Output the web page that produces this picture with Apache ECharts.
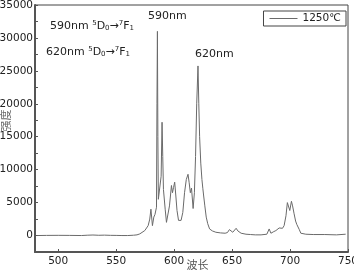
<!DOCTYPE html>
<html><head><meta charset="utf-8">
<script src="https://cdn.jsdelivr.net/npm/echarts@6/dist/echarts.min.js"></script>
<style>html,body{margin:0;padding:0;background:#fff}#c{width:354px;height:271px}</style>
</head><body><div id="c"></div>
<script>
const wavelength = [482,490,500,510,520,525,530,535,540,545,550,555,560,565,568,570.4,572,574.7,576,577.6,579,580,581.3,582.5,583.5,584.8,585.2,585.6,586.0,586.4,587.2,588,588.8,589.6,590.2,590.8,591.5,592.3,593.4,594.5,596,597.7,598.6,599.5,600.5,601.5,602.5,603.8,604.8,606,607.5,609,610.5,612,613,614,615,616.4,617.5,618.5,619.5,620.6,621.3,622,623,624,624.8,625.5,626.5,627.7,629,630.6,633,636,640,644,646,647.7,649,650.6,652,653.5,655,657.8,662,666,670,675,680,682,683.5,686,687.8,689,690.6,692,693.5,694.9,696.5,697.7,698.3,699.8,701.2,702.2,703.5,704.8,705.8,707,708,709.3,713.6,720,730,740,748];
const intensity = [0,20,30,20,0,50,80,40,60,30,20,0,0,50,100,250,500,750,1000,1500,2500,4000,1500,2800,3200,4300,20000,31000,15000,5500,5500,5400,9000,17200,12000,7000,6800,4000,2000,2200,4500,7600,6500,7300,8100,6000,3800,2300,2000,2300,3500,6500,8500,9300,8000,6500,7200,4100,6500,12000,20000,25750,20000,15000,11000,8500,7100,6000,4500,2800,1800,1000,700,500,400,350,450,900,700,500,700,1100,700,350,200,150,100,100,200,1000,350,600,750,700,1150,850,1100,1500,3000,5000,5300,3800,5200,4500,3300,2200,1700,1500,900,350,200,150,150,100,200];
const seriesName = '1250℃';
const xTicks = [500,550,600,650,700,750];
const yTicks = [0,5000,10000,15000,20000,25000,30000,35000];
const yMinorTicks = [-2500,0,2500,5000,7500,10000,12500,15000,17500,20000,22500,25000,27500,30000,32500,35000];

const chart = echarts.init(document.getElementById('c'));
const font = 'DejaVu Sans';
const txt = '#222';
chart.setOption({
  animation: false,
  grid: {left: 35, right: 6, top: 5, bottom: 19, show: true, borderColor: '#444', borderWidth: 1, containLabel: false, outerBoundsMode: 'none'},
  legend: {
    data: [seriesName], right: 8, top: 11, orient: 'horizontal',
    itemWidth: 28, itemHeight: 1, itemGap: 4,
    borderColor: '#444', borderWidth: 1, padding: [2, 5, 2, 6],
    icon: 'rect',
    textStyle: {fontFamily: font, fontSize: 10.5, color: txt}
  },
  xAxis: {
    type: 'value', min: 480, max: 750,
    name: '波长', nameLocation: 'middle', nameGap: 7, nameMoveOverlap: false,
    nameTextStyle: {fontFamily: 'Noto Sans CJK SC', fontSize: 11, color: '#555', padding: [0,0,0,12]},
    axisLine: {show: true, onZero: false, lineStyle: {color: '#555', width: 2}},
    axisTick: {show: true, inside: true, length: 3, customValues: xTicks, lineStyle: {color: '#555'}},
    axisLabel: {customValues: xTicks, fontFamily: font, fontSize: 10.5, color: txt, margin: 4},
    splitLine: {show: false}
  },
  yAxis: {
    type: 'value', min: -2500, max: 35000,
    name: '强度', nameLocation: 'middle', nameGap: 24, nameMoveOverlap: false,
    nameTextStyle: {fontFamily: 'Noto Sans CJK SC', fontSize: 11, color: '#666', padding: [0,0,0,16]},
    axisLine: {show: true, onZero: false, lineStyle: {color: '#555', width: 2}},
    axisTick: {show: true, inside: true, length: 3, customValues: yMinorTicks, lineStyle: {color: '#555'}},
    axisLabel: {customValues: yTicks, fontFamily: font, fontSize: 10.5, color: txt, margin: 2,
      formatter: v => String(v)},
    splitLine: {show: false}
  },
  graphic: [
    {type: 'text', left: 50, top: 20, style: {
      text: '590nm {sup|5}D{sub|0}→{sup|7}F{sub|1}',
      font: '11px DejaVu Sans', fill: txt,
      rich: {sup: {fontSize: 7, verticalAlign: 'top', padding: [0,0,5,0], fontFamily: font},
             sub: {fontSize: 7, verticalAlign: 'bottom', padding: [5,0,0,0], fontFamily: font}}
    }},
    {type: 'text', left: 46, top: 46, style: {
      text: '620nm {sup|5}D{sub|0}→{sup|7}F{sub|1}',
      font: '11px DejaVu Sans', fill: txt,
      rich: {sup: {fontSize: 7, verticalAlign: 'top', padding: [0,0,5,0], fontFamily: font},
             sub: {fontSize: 7, verticalAlign: 'bottom', padding: [5,0,0,0], fontFamily: font}}
    }},
    {type: 'text', left: 148, top: 11, style: {text: '590nm', font: '11px DejaVu Sans', fill: txt}},
    {type: 'text', left: 195, top: 49, style: {text: '620nm', font: '11px DejaVu Sans', fill: txt}}
  ],
  series: [{
    name: seriesName, type: 'line', showSymbol: false, symbol: 'none',
    data: wavelength.map((w, i) => [w, intensity[i]]),
    lineStyle: {color: '#6a6a6a', width: 1},
    itemStyle: {color: '#6a6a6a'}
  }]
});
</script></body></html>
